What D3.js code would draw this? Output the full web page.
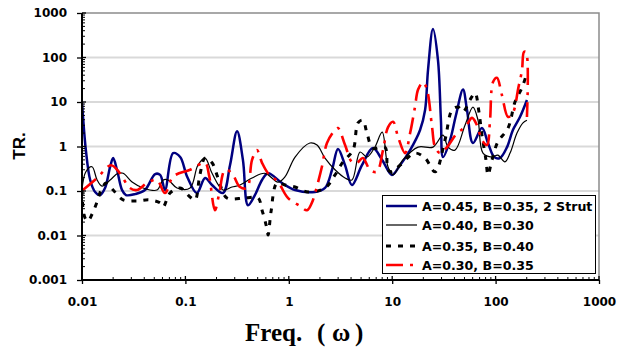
<!DOCTYPE html>
<html>
<head>
<meta charset="utf-8">
<script src="https://cdn.jsdelivr.net/npm/d3@7"></script>
<style>
  body { margin: 0; background: #fff; }
  svg { display: block; }
</style>
</head>
<body>
<svg id="chart" width="617" height="348"></svg>
<script>
// Transmissibility (TR.) against frequency, four strut configurations.
const seriesNames = [
  "A=0.45, B=0.35, 2 Strut",
  "A=0.40, B=0.30",
  "A=0.35, B=0.40",
  "A=0.30, B=0.35"
];

// [frequency ω, TR]
const trA45B35Strut = [
  [0.01,10],[0.0102,5.1],[0.0109,0.83],[0.012,0.177],[0.0134,0.095],[0.0149,0.081],
  [0.0167,0.117],[0.0187,0.35],[0.020,0.55],[0.0218,0.30],[0.0244,0.105],[0.0266,0.081],
  [0.0326,0.085],[0.0406,0.105],[0.051,0.24],[0.057,0.23],[0.0635,0.105],[0.076,0.71],
  [0.089,0.58],[0.104,0.21],[0.129,0.090],[0.155,0.196],[0.181,0.136],[0.231,0.090],
  [0.27,0.38],[0.316,2.2],[0.36,0.50],[0.403,0.048],[0.47,0.081],[0.551,0.177],
  [0.63,0.25],[0.86,0.151],[1.15,0.105],[1.79,0.095],[2.24,0.117],[2.62,0.30],
  [2.99,0.88],[3.5,0.38],[4.08,0.136],[5.1,0.38],[6.5,0.92],[8.0,0.50],[9.95,0.23],
  [11.9,0.38],[14.9,0.83],[18.6,2.35],[20.8,6.6],[22.2,52],[24.8,436],[27.7,88],
  [29.6,3.9],[31,0.58],[36.3,1.4],[41.4,5.1],[48.4,19],[52.9,6.6],[60.4,1.2],
  [73.8,2.6],[84.4,1.2],[97,0.58],[110,0.55],[129,0.97],[147,2.35],[172,4.6],[201,11.1]
];

const trA40B30 = [
  [0.01,0.105],[0.0109,0.27],[0.0125,0.35],[0.014,0.177],[0.0156,0.129],[0.0187,0.177],
  [0.0223,0.25],[0.025,0.25],[0.0305,0.159],[0.039,0.117],[0.053,0.105],[0.061,0.177],
  [0.068,0.177],[0.083,0.117],[0.111,0.117],[0.132,0.38],[0.155,0.55],[0.181,0.25],
  [0.231,0.105],[0.282,0.123],[0.337,0.136],[0.441,0.196],[0.589,0.25],[0.787,0.159],
  [0.92,0.21],[1.15,0.58],[1.6,1.2],[1.875,1.08],[2.24,0.55],[2.8,0.30],[3.5,0.196],
  [4.08,0.177],[4.88,0.75],[5.7,0.58],[6.8,0.97],[8.0,2.1],[9.1,0.35],[10.2,0.23],
  [12.7,0.5],[17.8,0.97],[24.8,0.97],[31,1.8],[34.7,0.97],[40.5,0.83],[50.6,3.0],
  [60.4,7.7],[67.6,3.9],[75.5,0.71],[92.3,0.58],[105,0.64],[123,0.45],[138,0.71],
  [161,2.0],[184,3.4],[201,3.9]
];

const trA35B40 = [
  [0.01,0.105],[0.0102,0.044],[0.0107,0.025],[0.0114,0.021],[0.0125,0.030],[0.014,0.057],
  [0.0153,0.105],[0.0171,0.151],[0.020,0.105],[0.025,0.063],[0.034,0.060],[0.045,0.063],
  [0.057,0.054],[0.061,0.044],[0.071,0.090],[0.089,0.117],[0.111,0.073],[0.124,0.063],
  [0.138,0.23],[0.155,0.55],[0.181,0.43],[0.207,0.196],[0.252,0.070],[0.377,0.070],
  [0.504,0.070],[0.551,0.037],[0.603,0.0172],[0.63,0.0103],[0.673,0.034],[0.769,0.151],
  [0.92,0.136],[1.15,0.123],[1.53,0.095],[2.24,0.117],[2.8,0.23],[3.34,0.45],[4.18,0.83],
  [4.67,3.4],[5.2,3.9],[5.7,2.0],[6.5,0.92],[8.5,0.97],[9.1,0.30],[9.95,0.27],[11.9,0.38],
  [16.6,0.71],[20.8,0.55],[26,0.27],[32.4,1.4],[37.9,6.6],[43.3,7.7],[48.4,6.0],
  [56.5,11.1],[63.2,16],[69,6.0],[73.8,1.8],[80.7,0.5],[84.4,0.23],[92.3,0.5],[105,1.26],
  [132,2.6],[154,10],[180,21],[201,45]
];

const trA30B35 = [
  [0.0102,0.105],[0.014,0.196],[0.0191,0.38],[0.0233,0.25],[0.029,0.117],[0.034,0.105],
  [0.0425,0.151],[0.053,0.177],[0.0635,0.090],[0.076,0.21],[0.111,0.30],[0.155,0.43],
  [0.169,0.23],[0.193,0.037],[0.211,0.081],[0.242,0.30],[0.282,0.25],[0.337,0.123],
  [0.394,0.117],[0.441,0.50],[0.492,0.83],[0.551,0.43],[0.63,0.25],[0.787,0.159],
  [0.98,0.070],[1.28,0.046],[1.5,0.037],[1.67,0.054],[1.83,0.105],[2.09,0.35],[2.34,1.2],
  [2.8,2.35],[2.99,2.6],[3.5,1.08],[4.08,0.45],[4.57,0.43],[5.2,0.55],[6.1,0.30],[7.1,0.27],
  [8.15,0.83],[9.1,2.7],[10.2,3.6],[11.4,1.63],[13.3,0.71],[14.9,2.0],[16.6,7.7],[17.8,19],
  [19.9,28],[21.7,19],[24.3,2.7],[26,0.97],[29,0.71],[33.9,0.97],[42.4,2.0],[50.6,2.7],
  [59.2,4.4],[66,3.0],[73.8,1.4],[82.6,1.08],[88.3,3.9],[94.4,28],[103,35],[115,14.4],
  [132,4.6],[147,5.7],[166,21],[180,52],[188,133],[197,133],[201,4.6]
];

const xTicks = [0.01, 0.1, 1, 10, 100, 1000];
const xTickLabels = ["0.01", "0.1", "1", "10", "100", "1000"];
const yTicks = [0.001, 0.01, 0.1, 1, 10, 100, 1000];
const yTickLabels = ["0.001", "0.01", "0.1", "1", "10", "100", "1000"];

const series = [
  { name: seriesNames[0], data: trA45B35Strut, color: "#000080", width: 2.5, dash: null },
  { name: seriesNames[1], data: trA40B30, color: "#000000", width: 1.2, dash: null },
  { name: seriesNames[2], data: trA35B40, color: "#000000", width: 3, dash: "5,7" },
  { name: seriesNames[3], data: trA30B35, color: "#ff0000", width: 2.6, dash: "17,7,3,7" }
];

const plotL = 82, plotR = 599, plotT = 13, plotB = 280;
const x = d3.scaleLog().domain([0.01, 1000]).range([plotL, plotR]);
const y = d3.scaleLog().domain([0.001, 1000]).range([plotB, plotT]);

const svg = d3.select("#chart");
const tickFont = "'DejaVu Sans', sans-serif";

// horizontal gridlines at each decade
svg.append("g")
  .selectAll("line")
  .data(yTicks.slice(1, -1))
  .join("line")
  .attr("x1", plotL).attr("x2", plotR)
  .attr("y1", d => y(d)).attr("y2", d => y(d))
  .attr("stroke", "#d9d9d9").attr("stroke-width", 2);

// plot-area frame (top and right)
svg.append("path")
  .attr("d", `M${plotL},${y(1000)}H${plotR}V${plotB}`)
  .attr("fill", "none").attr("stroke", "#8c8c8c").attr("stroke-width", 1.5);

// curves
svg.append("defs").append("clipPath").attr("id", "plotClip")
  .append("rect").attr("x", plotL).attr("y", plotT - 2)
  .attr("width", plotR - plotL).attr("height", plotB - plotT + 2);

const line = d3.line()
  .x(d => x(d[0]))
  .y(d => y(d[1]))
  .curve(d3.curveCatmullRom.alpha(0.5));

svg.append("g").attr("clip-path", "url(#plotClip)")
  .selectAll("path")
  .data(series)
  .join("path")
  .attr("d", d => line(d.data))
  .attr("fill", "none")
  .attr("stroke", d => d.color)
  .attr("stroke-width", d => d.width)
  .attr("stroke-dasharray", d => d.dash)
  .attr("stroke-linejoin", "round");

// axes
const yAxis = d3.axisLeft(y)
  .tickValues(yTicks)
  .tickFormat((d, i) => yTickLabels[i])
  .tickSize(5).tickPadding(10);
const gy = svg.append("g").attr("transform", `translate(${plotL},0)`).call(yAxis);
gy.select(".domain").remove();

const xAxis = d3.axisBottom(x)
  .tickValues(xTicks)
  .tickFormat((d, i) => xTickLabels[i])
  .tickSize(4).tickPadding(13);
const gx = svg.append("g").attr("transform", `translate(0,${plotB})`).call(xAxis);
gx.select(".domain").remove();

[gx, gy].forEach(g => {
  g.selectAll("text")
    .attr("font-family", tickFont).attr("font-weight", "bold")
    .attr("font-size", 12).attr("fill", "#000");
  g.selectAll(".tick line").attr("stroke", "#000").attr("stroke-width", 1.3);
});

// inner halves of the major ticks
svg.append("g").selectAll("line").data(yTicks).join("line")
  .attr("x1", plotL).attr("x2", plotL + 4)
  .attr("y1", d => y(d)).attr("y2", d => y(d))
  .attr("stroke", "#000").attr("stroke-width", 1.3);
svg.append("g").selectAll("line").data(xTicks).join("line")
  .attr("y1", plotB).attr("y2", plotB - 4)
  .attr("x1", d => x(d)).attr("x2", d => x(d))
  .attr("stroke", "#000").attr("stroke-width", 1.3);

// minor ticks (2..9 in each decade)
const minorY = [];
yTicks.slice(0, -1).forEach(d => { for (let k = 2; k < 10; k++) minorY.push(d * k); });
const minorX = [];
xTicks.slice(0, -1).forEach(d => { for (let k = 2; k < 10; k++) minorX.push(d * k); });

svg.append("g").selectAll("line").data(minorY).join("line")
  .attr("x1", plotL).attr("x2", plotL + 3)
  .attr("y1", d => y(d)).attr("y2", d => y(d))
  .attr("stroke", "#000").attr("stroke-width", 1);
svg.append("g").selectAll("line").data(minorX).join("line")
  .attr("y1", plotB).attr("y2", plotB - 3)
  .attr("x1", d => x(d)).attr("x2", d => x(d))
  .attr("stroke", "#000").attr("stroke-width", 1);

// axis lines
svg.append("line").attr("x1", plotL).attr("x2", plotL).attr("y1", plotT).attr("y2", plotB + 1)
  .attr("stroke", "#000").attr("stroke-width", 2);
svg.append("line").attr("x1", plotL - 1).attr("x2", plotR).attr("y1", plotB).attr("y2", plotB)
  .attr("stroke", "#000").attr("stroke-width", 2);

// axis titles
svg.append("text")
  .attr("transform", "translate(25,146) rotate(-90)")
  .attr("text-anchor", "middle")
  .attr("font-family", "'Liberation Sans', Arial, sans-serif")
  .attr("font-weight", "bold").attr("font-size", 17)
  .text("TR.");

const xt = svg.append("text")
  .attr("y", 341)
  .attr("font-family", "'Liberation Serif', 'Times New Roman', serif")
  .attr("font-weight", "bold").attr("font-size", 25);
xt.append("tspan").attr("x", 245).text("Freq.");
xt.append("tspan").attr("x", 317).text("(");
xt.append("tspan").attr("x", 332).text("ω");
xt.append("tspan").attr("x", 355).text(")");

// legend
const lg = svg.append("g");
lg.append("rect")
  .attr("x", 382.5).attr("y", 195.5).attr("width", 213).attr("height", 78)
  .attr("fill", "#fff").attr("stroke", "#000").attr("stroke-width", 1);
const rowY = [206, 225, 246, 265];
const items = lg.selectAll("g.item").data(series).join("g").attr("class", "item")
  .attr("transform", (d, i) => `translate(0,${rowY[i]})`);
items.append("line")
  .attr("x1", 386).attr("x2", 417).attr("y1", 0).attr("y2", 0)
  .attr("stroke", d => d.color)
  .attr("stroke-width", d => d.width)
  .attr("stroke-dasharray", d => d.dash);
items.append("text")
  .attr("x", 422).attr("y", 5)
  .attr("font-family", tickFont).attr("font-weight", "bold").attr("font-size", 12.6)
  .text(d => d.name);
</script>
</body>
</html>
